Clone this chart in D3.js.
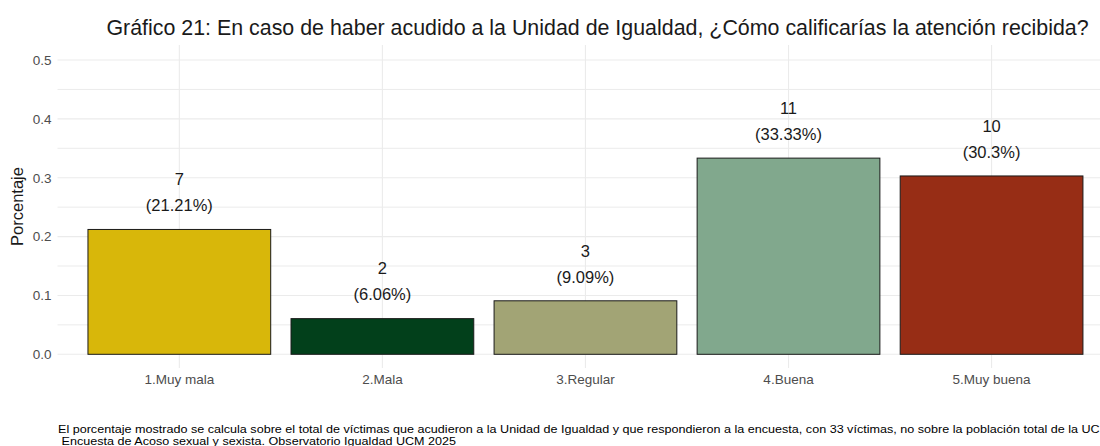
<!DOCTYPE html>
<html>
<head>
<meta charset="utf-8">
<script src="https://cdn.jsdelivr.net/npm/d3@7"></script>
<style>
  body { margin: 0; background: #fff; }
  svg { display: block; font-family: "Liberation Sans", Arial, sans-serif; }
</style>
</head>
<body>
<svg id="chart" width="1100" height="446"></svg>
<script>
// data
const categories = ["1.Muy mala", "2.Mala", "3.Regular", "4.Buena", "5.Muy buena"];
const counts = [7, 2, 3, 11, 10];
const shares = [0.2121, 0.0606, 0.0909, 0.3333, 0.303];
const shareLabels = ["21.21%", "6.06%", "9.09%", "33.33%", "30.3%"];
const colors = ["#D8B70A", "#02401B", "#A2A475", "#81A88D", "#972D15"];
const yTicks = [0, 0.1, 0.2, 0.3, 0.4, 0.5];
const yMinor = [0.05, 0.15, 0.25, 0.35, 0.45];

const title = "Gráfico 21: En caso de haber acudido a la Unidad de Igualdad, ¿Cómo calificarías la atención recibida?";
const caption = [
  "El porcentaje mostrado se calcula sobre el total de víctimas que acudieron a la Unidad de Igualdad y que respondieron a la encuesta, con 33 víctimas, no sobre la población total de la UCM",
  " Encuesta de Acoso sexual y sexista. Observatorio Igualdad UCM 2025"
];

const rows = categories.map((c, i) => ({
  cat: c, n: counts[i], p: shares[i], lab: shareLabels[i], color: colors[i]
}));

const svg = d3.select("#chart");
const panel = { top: 45, bottom: 368, left: 57.5, right: 1113.4 };

const x = d3.scaleBand()
  .domain(categories)
  .range([panel.left, panel.right])
  .paddingInner(0.1)
  .paddingOuter(0.15);

const y = d3.scaleLinear()
  .domain([0, 0.5])
  .range([354.3, 60]);

// grid
const grid = svg.append("g");
grid.selectAll(".minor")
  .data(yMinor)
  .enter()
  .append("line")
  .attr("x1", panel.left).attr("x2", panel.right)
  .attr("y1", d => y(d)).attr("y2", d => y(d))
  .attr("stroke", "#ebebeb").attr("stroke-width", 1);
grid.selectAll(".major")
  .data(yTicks)
  .enter()
  .append("line")
  .attr("x1", panel.left).attr("x2", panel.right)
  .attr("y1", d => y(d)).attr("y2", d => y(d))
  .attr("stroke", "#ebebeb").attr("stroke-width", 1.1);
grid.selectAll(".vert")
  .data(categories)
  .enter()
  .append("line")
  .attr("x1", d => x(d) + x.bandwidth() / 2).attr("x2", d => x(d) + x.bandwidth() / 2)
  .attr("y1", panel.top).attr("y2", panel.bottom)
  .attr("stroke", "#ebebeb").attr("stroke-width", 1.1);

// y axis labels
const yAxis = svg.append("g")
  .attr("transform", `translate(${panel.left},0)`)
  .call(d3.axisLeft(y).tickValues(yTicks).tickFormat(d3.format(".1f")).tickSize(0).tickPadding(6));
yAxis.select(".domain").remove();
yAxis.selectAll("text")
  .style("font-family", "Liberation Sans, Arial, sans-serif")
  .style("font-size", "13.5px")
  .attr("fill", "#4d4d4d");

// x axis labels
const xAxis = svg.append("g")
  .attr("transform", `translate(0,${panel.bottom})`)
  .call(d3.axisBottom(x).tickSize(0).tickPadding(6));
xAxis.select(".domain").remove();
xAxis.selectAll("text")
  .style("font-family", "Liberation Sans, Arial, sans-serif")
  .style("font-size", "13.5px")
  .attr("fill", "#4d4d4d");

// bars
svg.append("g")
  .selectAll("rect")
  .data(rows)
  .enter()
  .append("rect")
  .attr("x", d => x(d.cat))
  .attr("width", x.bandwidth())
  .attr("y", d => y(d.p))
  .attr("height", d => y(0) - y(d.p))
  .attr("fill", d => d.color)
  .attr("stroke", "#1a1a1a")
  .attr("stroke-width", 1);

// value labels
const labels = svg.append("g")
  .selectAll("g")
  .data(rows)
  .enter()
  .append("g");
labels.append("text")
  .attr("x", d => x(d.cat) + x.bandwidth() / 2)
  .attr("y", d => y(d.p) - 50)
  .attr("dy", "0.35em")
  .attr("text-anchor", "middle")
  .style("font-size", "16.5px")
  .attr("fill", "#1a1a1a")
  .text(d => d.n);
labels.append("text")
  .attr("x", d => x(d.cat) + x.bandwidth() / 2)
  .attr("y", d => y(d.p) - 24)
  .attr("dy", "0.35em")
  .attr("text-anchor", "middle")
  .style("font-size", "16.5px")
  .attr("fill", "#1a1a1a")
  .text(d => `(${d.lab})`);

// axis title
svg.append("text")
  .attr("transform", `translate(17,${(panel.top + panel.bottom) / 2}) rotate(-90)`)
  .attr("text-anchor", "middle")
  .attr("dy", "0.35em")
  .style("font-size", "16.5px")
  .attr("fill", "#1a1a1a")
  .text("Porcentaje");

// title
svg.append("text")
  .attr("x", 597.5)
  .attr("y", 28)
  .attr("dy", "0.35em")
  .attr("text-anchor", "middle")
  .style("font-size", "21.4px")
  .attr("fill", "#1a1a1a")
  .text(title);

// caption (slightly wide, flat type as in the reference)
svg.append("g")
  .selectAll("text")
  .data(caption)
  .enter()
  .append("text")
  .attr("transform", (d, i) => `translate(58,${433 + i * 11.5}) scale(1.115,1)`)
  .style("font-size", "11.3px")
  .style("white-space", "pre")
  .attr("fill", "#000")
  .text(d => d);
</script>
</body>
</html>
